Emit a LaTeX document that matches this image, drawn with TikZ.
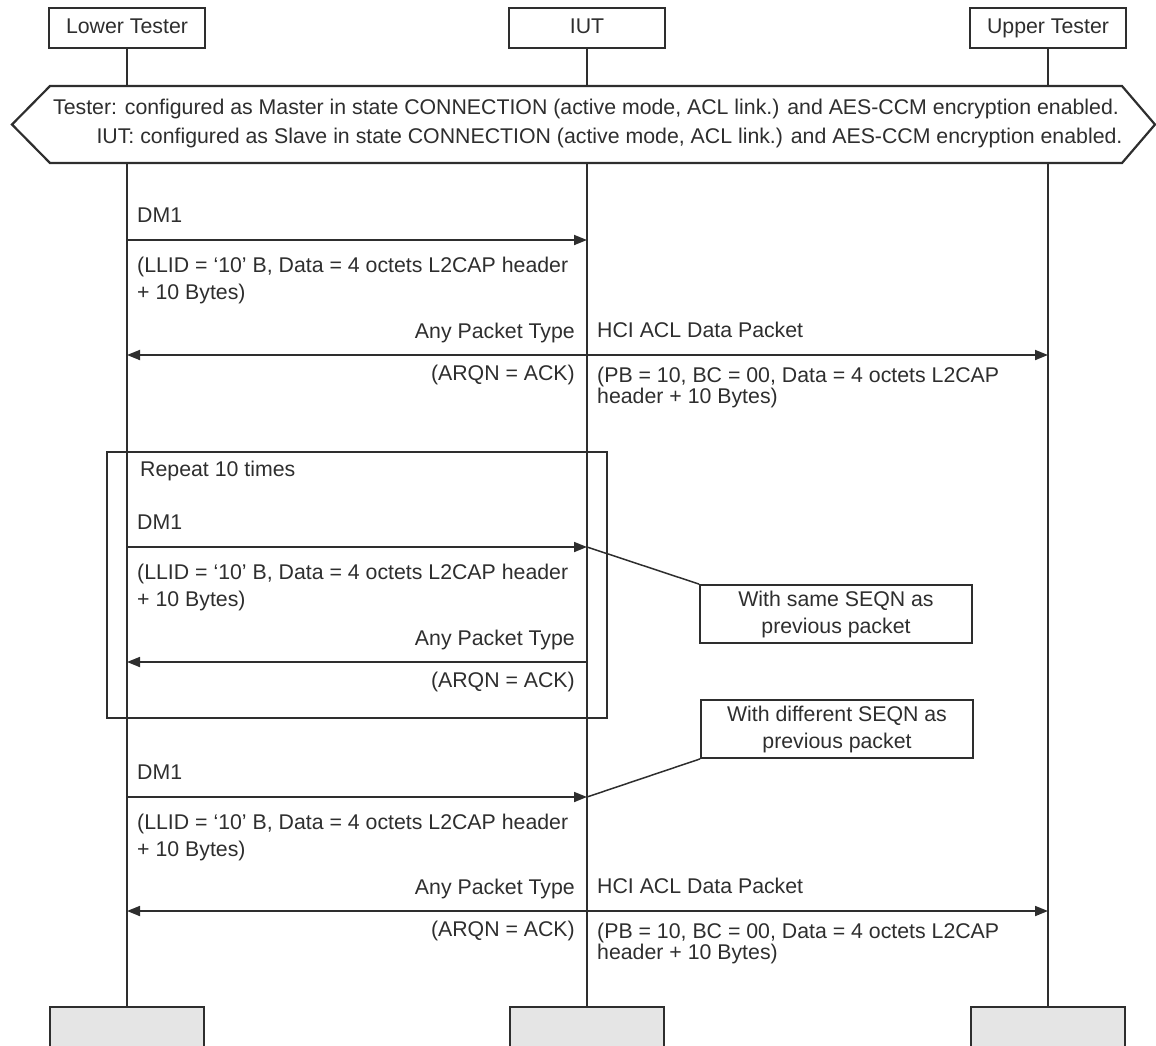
\documentclass[tikz,border=0pt]{standalone}
\usepackage{fontspec}
\setmainfont{Liberation Sans}
\usetikzlibrary{arrows.meta,positioning,calc}
\definecolor{ink}{HTML}{2E2E2E}

\begin{document}
\begin{tikzpicture}[
  x=1pt, y=-1pt,
  font=\fontsize{21.3}{27}\selectfont,
  lane/.style={rectangle, draw=ink, line width=2.2pt, fill=white, minimum width=156pt, minimum height=40pt, text=ink, text height=15pt, text depth=4.5pt},
  laneend/.style={rectangle, draw=ink, line width=2.2pt, fill=gray!20, minimum width=154pt, minimum height=46pt},
  life/.style={draw=ink, line width=1.8pt},
  msg/.style={-{Triangle[length=13pt, width=10pt]}, draw=ink, line width=1.8pt},
  msgboth/.style={{Triangle[length=13pt, width=10pt]}-{Triangle[length=13pt, width=10pt]}, draw=ink, line width=1.8pt},
  tag/.style={inner sep=0pt, text=ink, align=left},
  note/.style={rectangle, draw=ink, line width=1.8pt, minimum width=272pt, minimum height=58pt, align=center, text=ink},
]
\useasboundingbox (0,0) rectangle (1156,1045);

% lanes
\node[lane] (lt) at (127,28) {Lower Tester};
\node[lane] (iut) at (587,28) {IUT};
\node[lane] (ut) at (1048,28) {Upper Tester};
\node[laneend] (ltend) at (127,1030) {};
\node[laneend] (iutend) at (587,1030) {};
\node[laneend] (utend) at (1048,1030) {};
\draw[life] (lt) -- (ltend);
\draw[life] (iut) -- (iutend);
\draw[life] (ut) -- (utend);

% initial condition
\draw[draw=ink, line width=2.2pt, fill=white] (12,124.5) -- (50,86) -- (1122,86) -- (1155,124.5) -- (1122,163) -- (50,163) -- cycle;
\node[tag, align=center, font=\fontsize{21.3}{29}\selectfont] (setup) at (586,123)
  {Tester: configured as Master in state CONNECTION (active mode, ACL link.) and AES-CCM encryption enabled.\\
   \hspace*{47pt}IUT: configured as Slave in state CONNECTION (active mode, ACL link.) and AES-CCM encryption enabled.};

% message rows
\coordinate (r1) at (0,240);
\coordinate (r2) at (0,355);
\coordinate (r3) at (0,547);
\coordinate (r4) at (0,662);
\coordinate (r5) at (0,797);
\coordinate (r6) at (0,911);

% first DM1
\draw[msg] (lt |- r1) -- (iut |- r1);
\node[tag, anchor=base west, xshift=10pt, yshift=18pt] (dm1a) at (lt |- r1) {DM1};
\node[tag, anchor=north west, xshift=10pt, yshift=-17pt] (llida) at (lt |- r1)
  {(LLID = ‘10’ B, Data = 4 octets L2CAP header\\+ 10 Bytes)};

\draw[msgboth] (lt |- r2) -- (ut |- r2);
\node[tag, anchor=base east, xshift=-12pt, yshift=17pt] (apta) at (iut |- r2) {Any Packet Type};
\node[tag, anchor=base east, xshift=-12pt, yshift=-25pt] (arqna) at (iut |- r2) {(ARQN = ACK)};
\node[tag, anchor=base west, xshift=10pt, yshift=18pt] (hcia) at (iut |- r2) {HCI ACL Data Packet};
\node[tag, anchor=north west, xshift=10pt, yshift=-12pt] (pba) at (iut |- r2)
  {(PB = 10, BC = 00, Data = 4 octets L2CAP\\[-6pt]header + 10 Bytes)};

% repeated part
\draw[draw=ink, line width=1.8pt] (107,452) rectangle (607,718);
\node[tag, anchor=base west] (rep) at (140,476) {Repeat 10 times};

\draw[msg] (lt |- r3) -- (iut |- r3);
\node[tag, anchor=base west, xshift=10pt, yshift=18pt] (dm1b) at (lt |- r3) {DM1};
\node[tag, anchor=north west, xshift=10pt, yshift=-17pt] (llidb) at (lt |- r3)
  {(LLID = ‘10’ B, Data = 4 octets L2CAP header\\+ 10 Bytes)};

\draw[msg] (iut |- r4) -- (lt |- r4);
\node[tag, anchor=base east, xshift=-12pt, yshift=17pt] (aptb) at (iut |- r4) {Any Packet Type};
\node[tag, anchor=base east, xshift=-12pt, yshift=-25pt] (arqnb) at (iut |- r4) {(ARQN = ACK)};

% notes
\node[note] (same) at (836,614) {With same SEQN as\\previous packet};
\node[note] (diff) at (837,729) {With different SEQN as\\previous packet};
\draw[draw=ink, line width=1.5pt] (iut |- r3) -- (same.north west);
\draw[draw=ink, line width=1.5pt] (diff.south west) -- (iut |- r5);

% last DM1
\draw[msg] (lt |- r5) -- (iut |- r5);
\node[tag, anchor=base west, xshift=10pt, yshift=18pt] (dm1c) at (lt |- r5) {DM1};
\node[tag, anchor=north west, xshift=10pt, yshift=-17pt] (llidc) at (lt |- r5)
  {(LLID = ‘10’ B, Data = 4 octets L2CAP header\\+ 10 Bytes)};

\draw[msgboth] (lt |- r6) -- (ut |- r6);
\node[tag, anchor=base east, xshift=-12pt, yshift=17pt] (aptc) at (iut |- r6) {Any Packet Type};
\node[tag, anchor=base east, xshift=-12pt, yshift=-25pt] (arqnc) at (iut |- r6) {(ARQN = ACK)};
\node[tag, anchor=base west, xshift=10pt, yshift=18pt] (hcic) at (iut |- r6) {HCI ACL Data Packet};
\node[tag, anchor=north west, xshift=10pt, yshift=-12pt] (pbc) at (iut |- r6)
  {(PB = 10, BC = 00, Data = 4 octets L2CAP\\[-6pt]header + 10 Bytes)};
\end{tikzpicture}
\end{document}
